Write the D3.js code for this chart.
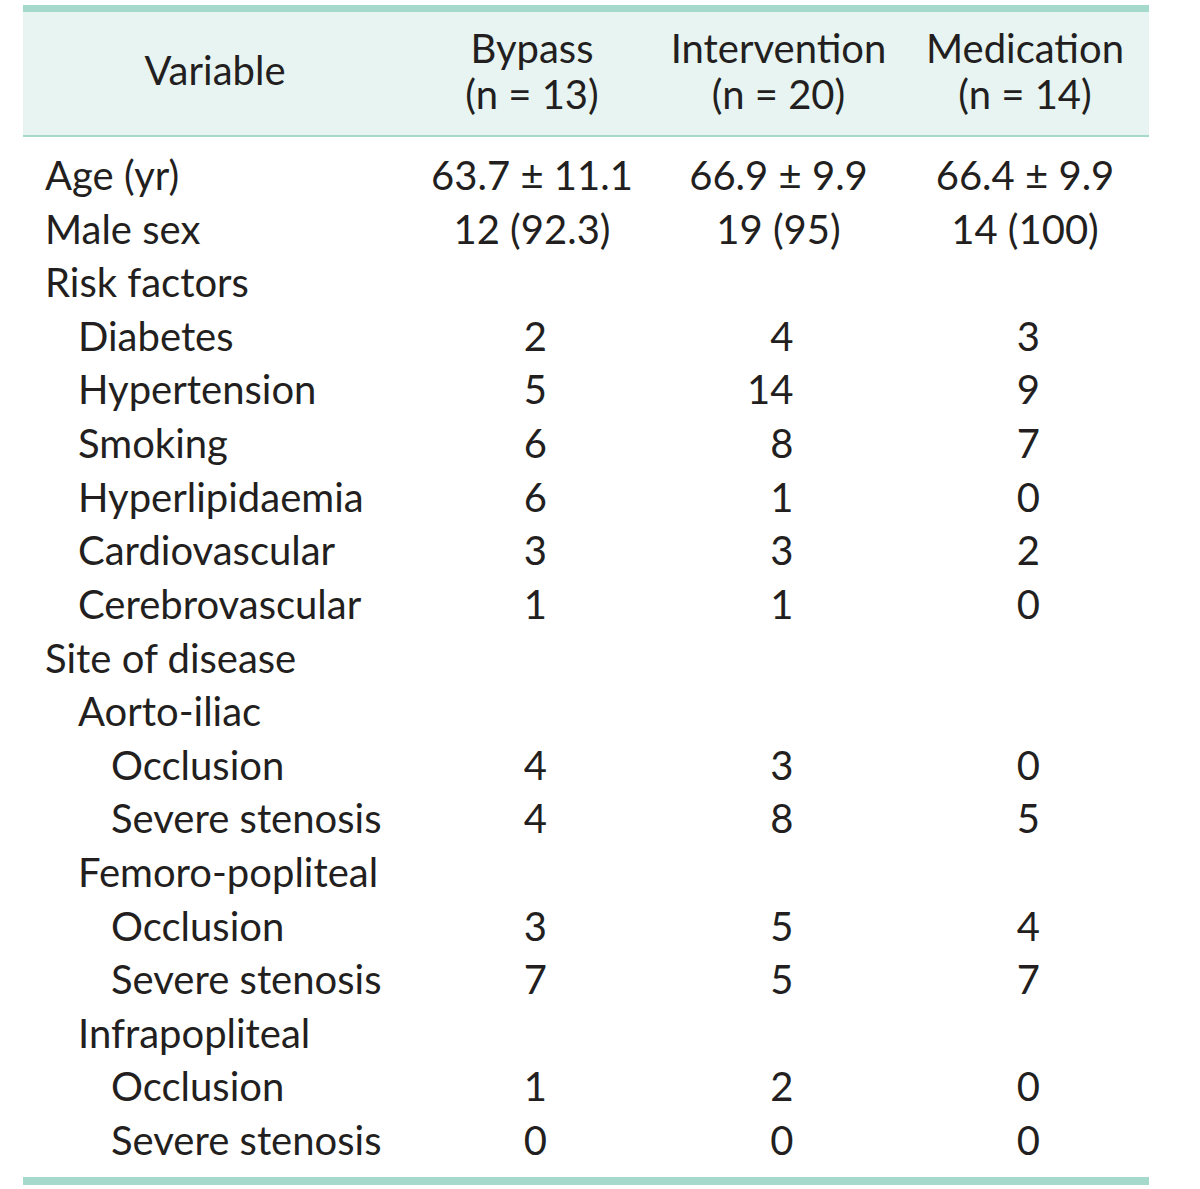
<!DOCTYPE html>
<html>
<head>
<meta charset="utf-8">
<script src="https://cdn.jsdelivr.net/npm/d3@7"></script>
<style>
  body { margin: 0; background: #fff; }
  svg text { font-family: Lato, "Open Sans", sans-serif; fill: #231f20; }
</style>
</head>
<body>
<svg id="table"></svg>
<script>
'use strict'

// column headers
const groups = ['Bypass', 'Intervention', 'Medication']
const groupN = ['(n = 13)', '(n = 20)', '(n = 14)']

// row labels and their indent level
const labels = ['Age (yr)', 'Male sex', 'Risk factors', 'Diabetes', 'Hypertension', 'Smoking',
  'Hyperlipidaemia', 'Cardiovascular', 'Cerebrovascular', 'Site of disease', 'Aorto-iliac',
  'Occlusion', 'Severe stenosis', 'Femoro-popliteal', 'Occlusion', 'Severe stenosis',
  'Infrapopliteal', 'Occlusion', 'Severe stenosis']
const levels = [0, 0, 0, 1, 1, 1, 1, 1, 1, 0, 1, 2, 2, 1, 2, 2, 1, 2, 2]

// values per group ('' = empty cell)
const bypass = ['63.7 ± 11.1', '12 (92.3)', '', '2', '5', '6', '6', '3', '1', '', '', '4', '4', '', '3', '7', '', '1', '0']
const intervention = ['66.9 ± 9.9', '19 (95)', '', '4', '14', '8', '1', '3', '1', '', '', '3', '8', '', '5', '5', '', '2', '0']
const medication = ['66.4 ± 9.9', '14 (100)', '', '3', '9', '7', '0', '2', '0', '', '', '0', '5', '', '4', '7', '', '0', '0']

const width = 1200, height = 1189
const left = 23, right = 1149
const fontSize = 40
const teal = '#a5d9cc'

const svg = d3.select('#table').attr('width', width).attr('height', height)

// header block and rules
svg.append('rect').attr('x', left).attr('y', 12).attr('width', right - left).attr('height', 123).attr('fill', '#e7f4f2')
svg.append('rect').attr('x', left).attr('y', 5).attr('width', right - left).attr('height', 7).attr('fill', teal)
svg.append('rect').attr('x', left).attr('y', 135).attr('width', right - left).attr('height', 2).attr('fill', teal)
svg.append('rect').attr('x', left).attr('y', 1177).attr('width', right - left).attr('height', 8).attr('fill', teal)

// column centres
const x = d3.scalePoint().domain(groups).range([532, 1025])
// row baselines
const y = d3.scaleLinear().domain([0, labels.length - 1]).range([190, 1155])
const indent = d3.scaleLinear().domain([0, 2]).range([45, 111])

svg.append('text').attr('x', 215).attr('y', 85).attr('text-anchor', 'middle')
  .style('font-size', fontSize + 'px').text('Variable')

const head = svg.append('g').selectAll('g').data(groups).enter().append('g')
head.append('text').attr('x', d => x(d)).attr('y', 63).attr('text-anchor', 'middle')
  .style('font-size', fontSize + 'px').text(d => d)
head.append('text').attr('x', d => x(d)).attr('y', 109).attr('text-anchor', 'middle')
  .style('font-size', fontSize + 'px').text((d, i) => groupN[i])

// row labels
svg.append('g').selectAll('text').data(labels).enter().append('text')
  .attr('x', (d, i) => indent(levels[i]))
  .attr('y', (d, i) => y(i))
  .style('font-size', fontSize + 'px')
  .text(d => d)

// value cells: plain integers right-aligned, others centred
const columns = [bypass, intervention, medication]
columns.forEach((col, c) => {
  const cx = x(groups[c])
  svg.append('g').selectAll('text').data(col).enter().append('text')
    .attr('x', d => /^\d+$/.test(d) ? cx + 15 : cx)
    .attr('y', (d, i) => y(i))
    .attr('text-anchor', d => /^\d+$/.test(d) ? 'end' : 'middle')
    .style('font-size', fontSize + 'px')
    .text(d => d)
})
</script>
</body>
</html>
